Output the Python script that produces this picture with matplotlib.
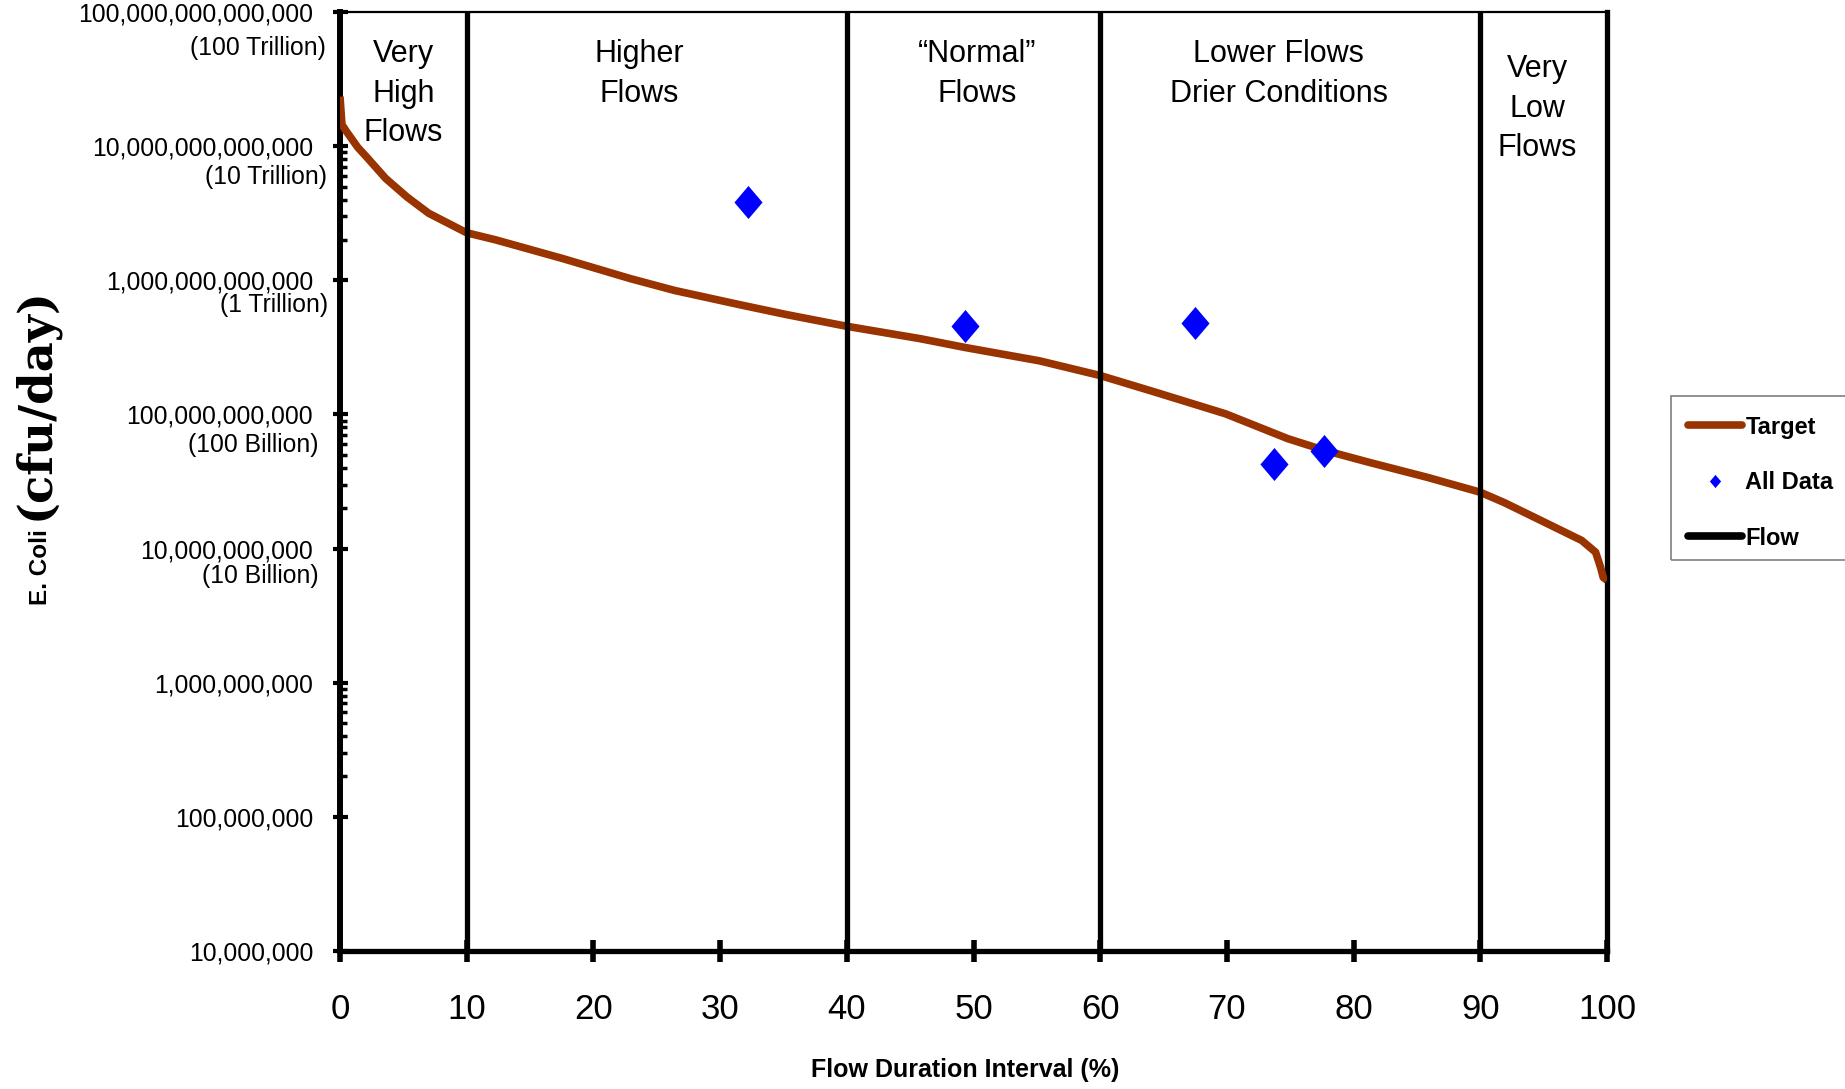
import matplotlib
matplotlib.use("Agg")
import matplotlib.pyplot as plt
import matplotlib.transforms as mtransforms
from matplotlib.path import Path
from matplotlib.lines import Line2D
from matplotlib.patches import Rectangle

plt.rcParams['font.family'] = ['Liberation Sans', 'DejaVu Sans']

# ---------------- data ----------------
flow_pct = [0, 0.15, 0.5, 1.4, 2.1, 3.6, 5.3, 7.0, 10, 12.3, 17.6, 22.9, 26.4,
            31.7, 35.2, 40, 45.8, 49.3, 55.2, 60, 64.3, 69.9, 74.8, 77.7, 81.2,
            85.8, 90, 91.9, 94.9, 98, 99.1, 99.5, 99.7, 100]
target_load = [2.34e13, 1.45e13, 1.29e13, 9.8e12, 8.3e12, 5.75e12, 4.17e12,
               3.16e12, 2.26e12, 2.0e12, 1.45e12, 1.03e12, 8.4e11, 6.53e11,
               5.56e11, 4.54e11, 3.67e11, 3.16e11, 2.51e11, 1.95e11, 1.47e11,
               1.01e11, 6.6e10, 5.4e10, 4.4e10, 3.4e10, 2.63e10, 2.2e10,
               1.6e10, 1.15e10, 9.4e9, 7.2e9, 6.1e9, 5.8e9]
data_pct = [32.2, 49.3, 67.5, 73.7, 77.7]
data_load = [3.82e12, 4.56e11, 4.8e11, 4.24e10, 5.3e10]
flow_boundaries = [10, 40, 60, 90]
zone_names = ["Very\nHigh\nFlows", "Higher\nFlows", "\u201cNormal\u201d\nFlows",
              "Lower Flows\nDrier Conditions", "Very\nLow\nFlows"]
x_ticks = [0, 10, 20, 30, 40, 50, 60, 70, 80, 90, 100]
y_ticks = [1e7, 1e8, 1e9, 1e10, 1e11, 1e12, 1e13, 1e14]
y_sub_values = [1e14, 1e13, 1e12, 1e11, 1e10]
y_sub_labels = ["(100 Trillion)", "(10 Trillion)", "(1 Trillion)",
                "(100 Billion)", "(10 Billion)"]
legend_labels = ["Target", "All Data", "Flow"]

# ---------------- layout / style ----------------
zone_x = [5.0, 23.6, 50.3, 74.1, 94.5]
zone_top = [0.9712, 0.9712, 0.9712, 0.9712, 0.9552]
sub_dx = [14, 13, 12, 22, 21]
sub_dy = [36, 31, 25, 31, 27]
minor_decades = [1e8, 1e10, 1e12]

BROWN = '#993300'
BLUE = '#0000FF'

W, H = 1845, 1089
fig = plt.figure(figsize=(W / 100, H / 100), dpi=100)
L, R, B, T = 340, 1607, 951, 12
ax = fig.add_axes([L / W, 1 - B / H, (R - L) / W, (B - T) / H])

ax.set_yscale('log')
ax.set_xlim(0, 100)
ax.set_ylim(1e7, 1e14)

ax.plot(flow_pct, target_load, color=BROWN, lw=5.5, solid_joinstyle='round',
        solid_capstyle='butt', zorder=3)
ax.vlines(flow_boundaries, 1e7, 1e14, colors='k', lw=3.8, zorder=4)

diamond = Path([(0, 1), (0.85, 0), (0, -1), (-0.85, 0), (0, 1)],
               [Path.MOVETO, Path.LINETO, Path.LINETO, Path.LINETO, Path.CLOSEPOLY])
ax.plot(data_pct, data_load, linestyle='none', marker=diamond, ms=23.8,
        color=BLUE, mec=BLUE, mew=0, zorder=5)

# spines
ax.spines['left'].set_linewidth(4.3)
ax.spines['bottom'].set_linewidth(3.8)
ax.spines['right'].set_linewidth(3.8)
ax.spines['top'].set_linewidth(1.6)

# x ticks
ax.set_xticks(x_ticks)
ax.set_xticklabels([str(t) for t in x_ticks], fontsize=25)
ax.tick_params(axis='x', which='major', direction='inout', length=16, width=4, pad=22)
ax.tick_params(axis='x', which='minor', bottom=False)

# y ticks
ax.set_yticks(y_ticks)
ax.set_yticklabels([f"{int(v):,}" for v in y_ticks], fontsize=17.8)
ax.tick_params(axis='y', which='major', direction='inout', length=10.8, width=3, pad=14)
minors = [d * k for d in minor_decades for k in range(2, 10)]
ax.set_yticks(minors, minor=True)
ax.set_yticklabels([], minor=True)
ax.tick_params(axis='y', which='minor', direction='in', length=5, width=2.5)

for v, s, dx, dy in zip(y_sub_values, y_sub_labels, sub_dx, sub_dy):
    ax.annotate(s, xy=(0, v), xycoords=('axes fraction', 'data'),
                xytext=(-dx, -dy), textcoords='offset pixels',
                ha='right', va='center', fontsize=17.8)

# zone labels
trans = mtransforms.blended_transform_factory(ax.transData, ax.transAxes)
for x, yt, s in zip(zone_x, zone_top, zone_names):
    ax.text(x, yt, s, transform=trans, ha='center', va='top', fontsize=22,
            linespacing=1.42, zorder=6)

# axis labels
fig.text(965 / W, 1 - 1070 / H, "Flow Duration Interval (%)", ha='center',
         va='center', fontsize=18, fontweight='bold')
fig.text(47 / W, 1 - 605 / H, "E. Coli", rotation=90, rotation_mode='anchor',
         ha='left', va='baseline', fontsize=17.5, fontweight='bold')
fig.text(48 / W, 1 - 520 / H, "(cfu/day)", rotation=90, rotation_mode='anchor',
         ha='left', va='baseline', fontsize=33.5, fontweight='bold',
         family='DejaVu Serif')

# legend
handles = [
    Line2D([], [], color=BROWN, lw=5.5, solid_capstyle='round'),
    Line2D([], [], linestyle='none', marker=diamond, ms=9.5, color=BLUE, mew=0),
    Line2D([], [], color='k', lw=5.5, solid_capstyle='round'),
]
fig.legend(handles, legend_labels, loc='upper left',
           bbox_to_anchor=(1671 / W, 1 - 399 / H), frameon=False,
           prop={'weight': 'bold', 'size': 17.0}, handlelength=2.3,
           handletextpad=0.15, labelspacing=1.38, borderpad=0.7,
           borderaxespad=0)
fig.patches.append(Rectangle((1671 / W, 1 - 560 / H), (1860 - 1671) / W, 164 / H,
                             transform=fig.transFigure, fill=False,
                             edgecolor='#7f7f7f', lw=1.2))

fig.savefig('out.png', dpi=100)
